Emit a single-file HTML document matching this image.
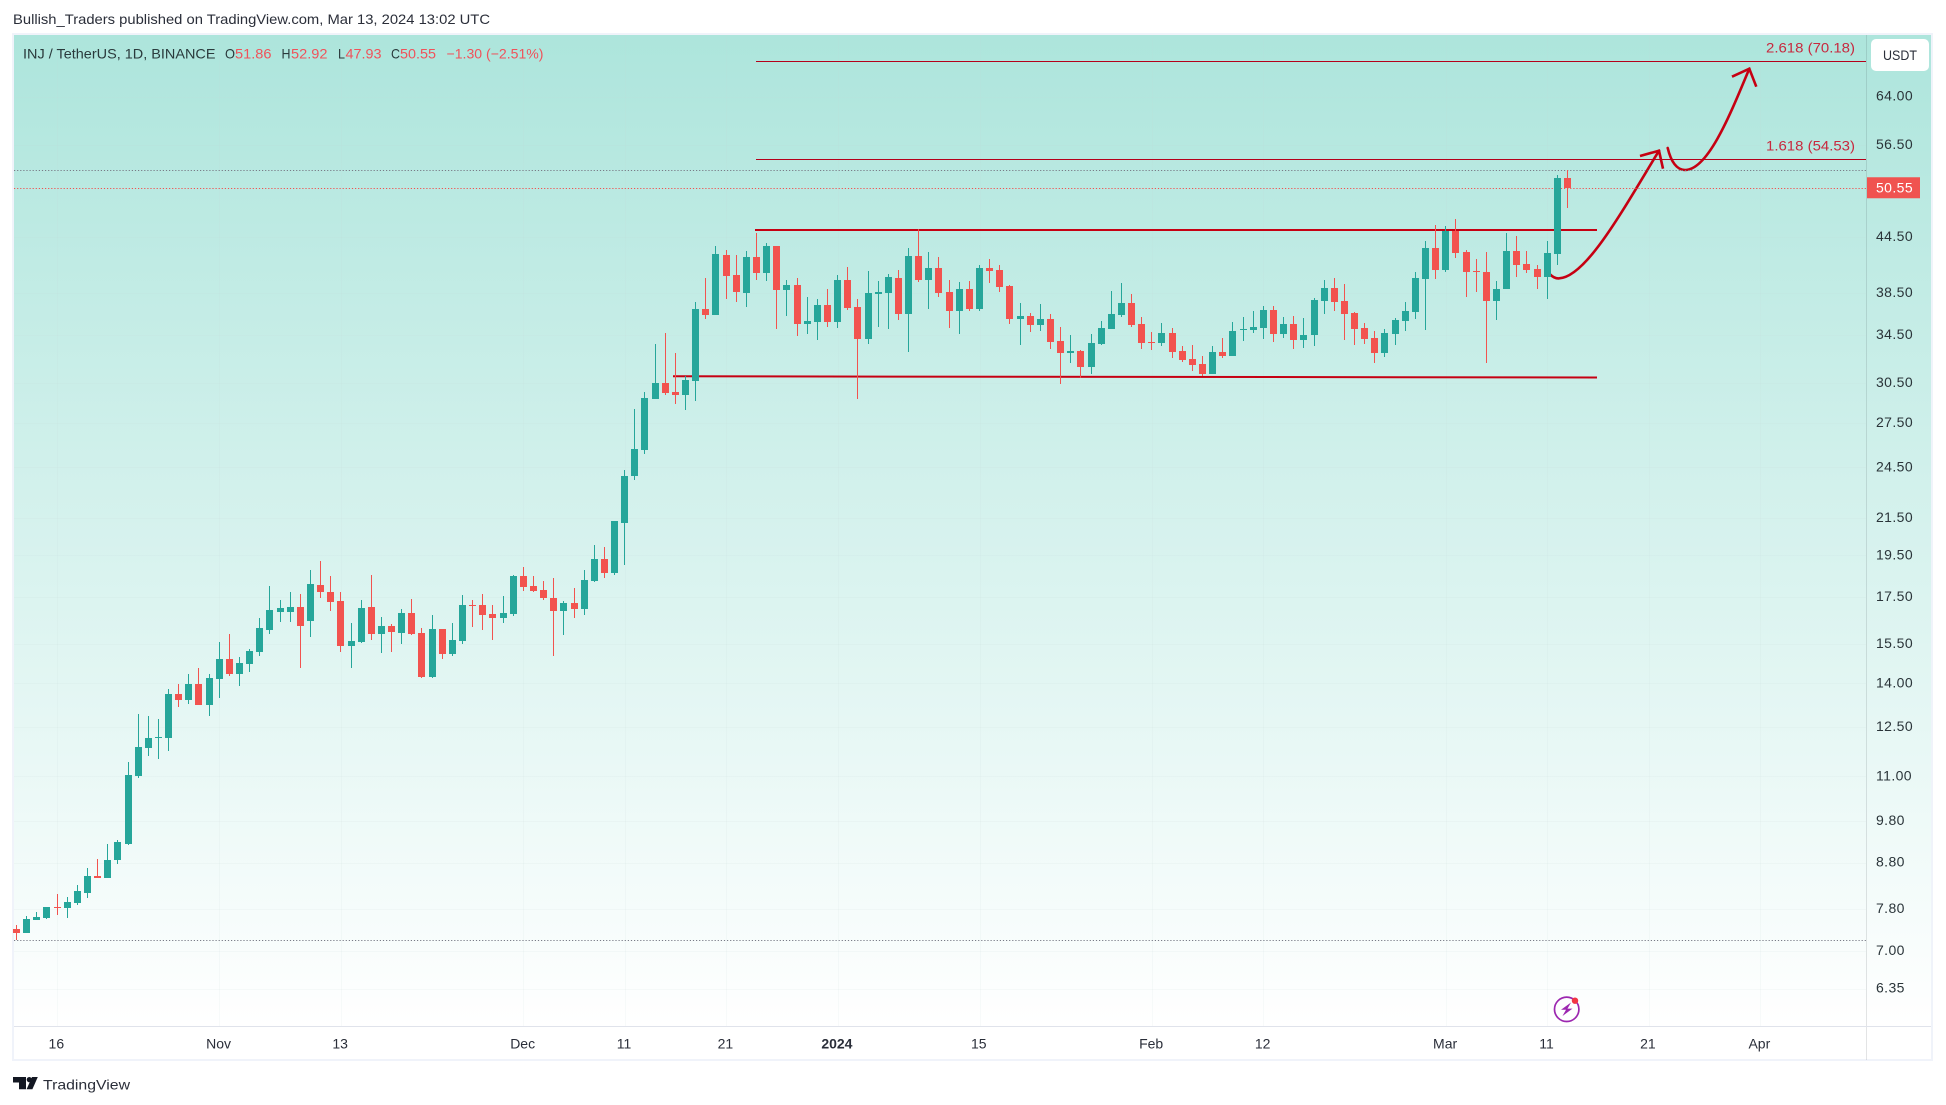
<!DOCTYPE html>
<html lang="en">
<head>
<meta charset="utf-8">
<title>INJ / TetherUS chart</title>
<style>
html,body{margin:0;padding:0;background:#fff;width:1946px;height:1105px;overflow:hidden}
svg{display:block}
text{font-family:"Liberation Sans",sans-serif;font-size:14px}
</style>
</head>
<body>
<svg id="chart" xmlns="http://www.w3.org/2000/svg" width="1946" height="1105" viewBox="0 0 1946 1105">
  <defs>
    <linearGradient id="paneGradient" x1="0" y1="0" x2="0" y2="1">
      <stop offset="0" stop-color="#ade5dc"/>
      <stop offset="1" stop-color="#ffffff"/>
    </linearGradient>
  </defs>
  <rect x="0" y="0" width="1946" height="1105" fill="#ffffff"/>
  <text x="13" y="24" font-size="14" fill="#2a2e39" textLength="477" lengthAdjust="spacingAndGlyphs">Bullish_Traders published on TradingView.com, Mar 13, 2024 13:02 UTC</text>
  <rect x="13" y="34" width="1919" height="1026" fill="#ffffff" stroke="#f0f3fa" stroke-width="2"/>
  <rect x="14" y="35" width="1917" height="991" fill="url(#paneGradient)"/>
  <g id="grid"></g>
  <g id="drawings">
    <path d="M1550 274.3 Q1554 278.4 1558.5 278.4 C1585 278 1620 215 1659 150.7" fill="none" stroke="#c60012" stroke-width="2.6" stroke-linecap="round"/>
    <path d="M1640 156 L1659 150.7 L1663 168.7" fill="none" stroke="#c60012" stroke-width="2.6"/>
    <path d="M1667.7 148 C1671 162 1677 170 1685 170 C1708 170 1730 115 1749.3 68.7" fill="none" stroke="#c60012" stroke-width="2.6" stroke-linecap="round"/>
    <path d="M1732 76.7 L1749.3 68.7 L1756.3 86.7" fill="none" stroke="#c60012" stroke-width="2.6"/>
  </g>
  <g id="levels"></g>
  <g id="candles"></g>
  <line x1="1866.5" y1="35" x2="1866.5" y2="1060" stroke="#2a2e39" stroke-opacity="0.13" stroke-width="1"/>
  <line x1="14" y1="1026.5" x2="1931" y2="1026.5" stroke="#e0e3eb" stroke-width="1"/>
  <g id="priceAxis"></g>
  <g id="timeAxis"></g>
  <g>
    <text x="23" y="58.5" fill="#2a3a3c" textLength="192.5" lengthAdjust="spacingAndGlyphs">INJ / TetherUS, 1D, BINANCE</text>
    <text x="225" y="58.5" fill="#2a3a3c" textLength="10" lengthAdjust="spacingAndGlyphs">O</text>
    <text x="235" y="58.5" fill="#f0525a" textLength="36.5" lengthAdjust="spacingAndGlyphs">51.86</text>
    <text x="281.5" y="58.5" fill="#2a3a3c" textLength="9" lengthAdjust="spacingAndGlyphs">H</text>
    <text x="291" y="58.5" fill="#f0525a" textLength="36.5" lengthAdjust="spacingAndGlyphs">52.92</text>
    <text x="338" y="58.5" fill="#2a3a3c" textLength="7" lengthAdjust="spacingAndGlyphs">L</text>
    <text x="345.5" y="58.5" fill="#f0525a" textLength="36" lengthAdjust="spacingAndGlyphs">47.93</text>
    <text x="391" y="58.5" fill="#2a3a3c" textLength="9" lengthAdjust="spacingAndGlyphs">C</text>
    <text x="400" y="58.5" fill="#f0525a" textLength="36" lengthAdjust="spacingAndGlyphs">50.55</text>
    <text x="446.5" y="58.5" fill="#f0525a" textLength="97" lengthAdjust="spacingAndGlyphs">−1.30 (−2.51%)</text>
  </g>
  <g>
    <rect x="1871" y="39" width="58" height="32" rx="5" fill="#ffffff"/>
    <text x="1883" y="60" fill="#2a2e39" textLength="34" lengthAdjust="spacingAndGlyphs">USDT</text>
  </g>
  <g>
    <circle cx="1566.7" cy="1009.3" r="12.2" fill="none" stroke="#9c27b0" stroke-width="1.7"/>
    <path d="M1571 1002.5 L1561 1009.8 L1566 1009.8 L1562.5 1016 L1572.5 1008.6 L1567.5 1008.6 Z" fill="#9c27b0"/>
    <circle cx="1575" cy="1000.7" r="3.2" fill="#f23645"/>
  </g>
  <g>
    <path d="M13 1077 H26 V1089.3 H19 V1082.5 H13 Z" fill="#131722"/>
    <circle cx="29.3" cy="1079.6" r="2.6" fill="#131722"/>
    <path d="M32 1077 H37.8 L32.4 1089.3 H26.6 Z" fill="#131722"/>
    <text x="43" y="1089.5" font-size="16" fill="#2a2e39" textLength="87" lengthAdjust="spacingAndGlyphs">TradingView</text>
  </g>
</svg>
<script>
const opens = [
7.41,7.34,7.59,7.63,7.85,7.83,7.92,8.14,8.51,8.46,
8.85,9.24,11.01,11.83,12.16,12.16,13.63,13.42,13.99,13.25,
14.17,14.92,14.36,14.73,15.19,16.07,16.85,16.85,17.07,16.46,
18.06,17.73,17.33,15.43,15.59,17.07,15.92,16.25,15.96,16.80,
15.96,14.24,16.13,15.11,15.63,17.16,17.16,16.76,16.59,16.76,
18.49,18.02,17.83,17.47,16.88,17.24,16.97,18.25,19.33,18.63,
21.21,23.94,25.62,29.24,30.48,29.78,29.55,30.64,36.93,36.36,
42.46,40.33,38.49,42.25,40.53,43.47,38.79,39.30,35.52,35.71,
37.30,35.71,39.81,37.12,34.16,38.39,38.49,40.02,36.45,42.36,
39.81,41.06,38.59,36.74,38.89,36.93,41.06,40.85,39.19,35.98,
36.26,35.43,35.98,33.98,32.95,33.12,31.78,33.72,35.06,36.36,
37.50,35.52,33.89,33.80,34.70,33.12,32.44,32.03,31.22,33.03,
32.70,34.97,34.97,35.15,36.83,34.61,35.52,34.07,34.52,37.69,
38.99,37.69,36.55,35.15,34.25,32.95,34.61,35.80,36.64,39.91,
43.24,40.85,45.19,42.80,40.74,40.64,37.69,38.89,42.91,41.49,
40.96,40.12,42.57,51.86];
const highs = [
7.49,7.67,7.75,7.85,8.12,8.04,8.31,8.68,8.89,9.24,
9.34,11.43,12.94,12.87,12.77,13.81,13.99,14.36,14.58,14.36,
15.59,15.91,15.00,15.31,16.59,18.00,17.38,17.74,17.65,18.78,
19.23,18.49,17.73,16.37,17.38,18.54,16.63,16.33,16.97,17.42,
16.17,16.72,16.13,16.37,17.60,17.38,17.65,17.16,17.56,18.54,
18.93,18.49,18.25,18.39,17.33,17.92,18.78,20.04,19.93,21.32,
24.32,28.49,29.78,33.72,34.70,32.95,31.04,37.59,40.02,43.47,
43.02,42.46,42.91,44.96,43.81,43.47,39.81,40.02,38.09,37.89,
38.89,40.33,41.17,37.89,40.74,39.71,40.43,40.85,43.24,45.43,
42.80,42.25,39.81,39.60,39.71,41.38,42.03,41.38,39.30,37.50,
36.55,37.40,36.45,35.24,34.52,33.20,34.61,35.80,38.69,39.50,
38.39,36.17,34.79,35.61,35.15,33.55,33.63,32.70,33.55,34.25,
35.71,36.17,36.74,37.21,37.21,36.17,36.26,36.08,37.99,39.81,
40.02,39.40,36.64,35.61,34.88,35.06,36.08,37.59,40.64,44.03,
45.90,45.78,46.62,43.02,42.03,42.80,39.71,44.96,44.61,42.91,
41.38,44.03,52.26,52.92];
const lows = [
7.20,7.34,7.59,7.61,7.69,7.63,7.88,8.02,8.46,8.46,
8.76,9.20,10.96,11.61,11.52,11.76,13.18,13.28,13.25,12.87,
13.49,14.28,13.92,14.43,15.03,15.92,16.41,16.41,14.58,15.79,
17.46,16.88,15.19,14.58,15.55,15.67,15.15,15.19,15.51,15.88,
14.20,14.20,14.92,15.03,15.51,16.21,16.07,15.67,16.37,16.67,
17.78,17.73,17.38,15.03,15.88,16.59,16.72,18.20,18.39,18.54,
19.03,23.71,25.36,29.24,29.55,28.87,28.41,29.09,35.98,36.36,
37.89,37.59,37.12,39.81,39.71,35.06,36.26,34.43,34.61,34.07,
35.24,35.15,36.83,29.24,33.72,35.24,35.06,35.89,33.03,39.60,
36.93,38.09,35.15,34.61,36.74,36.74,39.50,38.59,35.52,33.63,
34.79,34.88,33.29,30.40,32.11,30.88,31.22,33.63,35.06,36.17,
35.24,33.29,33.20,33.55,32.53,32.19,31.46,31.04,31.22,32.53,
32.70,33.98,34.70,34.16,33.89,34.25,33.29,33.37,33.55,36.45,
36.74,34.07,33.63,33.72,32.11,32.61,33.63,34.88,35.98,34.97,
39.91,40.64,42.14,38.09,38.59,32.11,35.89,38.89,40.12,40.53,
38.89,37.89,41.38,47.93];
const closes = [
7.34,7.61,7.65,7.85,7.84,7.94,8.17,8.51,8.46,8.87,
9.27,11.05,11.86,12.16,12.19,13.63,13.42,13.99,13.25,14.20,
14.92,14.36,14.77,15.23,16.17,16.93,17.02,17.07,16.25,18.11,
17.73,17.29,15.43,15.63,17.02,15.92,16.25,16.01,16.80,15.92,
14.24,16.13,15.11,15.67,17.16,17.11,16.72,16.59,16.80,18.49,
17.97,17.78,17.47,16.88,17.24,16.97,18.30,19.33,18.63,21.32,
23.94,25.69,29.32,30.48,29.70,29.55,30.72,36.93,36.36,42.57,
40.22,38.59,42.25,40.53,43.47,38.79,39.30,35.52,35.80,37.30,
35.71,39.81,37.02,34.16,38.49,38.59,40.12,36.45,42.36,39.81,
41.06,38.49,36.74,38.89,36.93,41.06,40.74,39.09,35.98,36.26,
35.43,35.98,33.89,32.95,33.12,31.78,33.80,35.15,36.45,37.50,
35.43,33.80,33.80,34.70,33.03,32.36,31.94,31.22,33.03,32.70,
34.88,35.06,35.24,36.83,34.61,35.52,34.07,34.52,37.79,38.99,
37.59,36.45,35.06,34.16,32.95,34.70,35.89,36.74,40.02,43.24,
40.85,45.19,42.69,40.64,40.64,37.69,38.89,42.91,41.38,40.85,
40.12,42.69,51.86,50.55];

const priceTickLabels = ["64.00","56.50","44.50","38.50","34.50","30.50","27.50","24.50","21.50","19.50","17.50","15.50","14.00","12.50","11.00","9.80","8.80","7.80","7.00","6.35"];
const timeTickDayIndex = [4,20,32,50,60,70,81,95,112,123,141,151,161,172];
const timeTickLabels = ["16","Nov","13","Dec","11","21","2024","15","Feb","12","Mar","11","21","Apr"];
const fibLevels = [70.18,54.53];
const fibLabels = ["2.618 (70.18)","1.618 (54.53)"];
const rangeLevels = [45.31,30.97];

const NS = "http://www.w3.org/2000/svg";
const GREEN = "#26a69a";
const RED = "#f2534f";
function xScale(i){ return 16.5 + 10.137 * i; }
function yScale(p){ return 96.7 + 386 * Math.log(64 / p); }
function mk(parent, tag, attrs, txt){
  const el = document.createElementNS(NS, tag);
  for (const k in attrs) el.setAttribute(k, attrs[k]);
  if (txt !== undefined) el.textContent = txt;
  parent.appendChild(el);
  return el;
}
const gridG = document.getElementById("grid");
const levelsG = document.getElementById("levels");
const candlesG = document.getElementById("candles");
const priceG = document.getElementById("priceAxis");
const timeG = document.getElementById("timeAxis");

priceTickLabels.forEach(function(lbl){
  const y = yScale(parseFloat(lbl));
  const g = mk(gridG, "line", {x1:14, x2:1866, y1:Math.round(y)+0.5, y2:Math.round(y)+0.5, stroke:"#c8d8d8", "stroke-opacity":0.12});
  
  
  const t = mk(priceG, "text", {x:1876, y:y+4, fill:"#2a3439", "letter-spacing":"0.4"}, lbl);
  
  
});

timeTickDayIndex.forEach(function(idx, k){
  const x = xScale(idx);
  const g = mk(gridG, "line", {x1:Math.round(x)+0.5, x2:Math.round(x)+0.5, y1:35, y2:1026, stroke:"#c8d8d8", "stroke-opacity":0.12});
  
  
  const bold = timeTickLabels[k] === "2024";
  const t = mk(timeG, "text", {x:x-0.7, y:1048.5, fill:"#2a2e39", "text-anchor":"middle", "font-weight":bold ? "bold" : "normal"}, timeTickLabels[k]);
  
  
});

fibLevels.forEach(function(level, k){
  const y = Math.round(yScale(level)) + 0.5;
  const l = mk(levelsG, "line", {x1:756, x2:1866, y1:y, y2:y, stroke:"#b5001a", "stroke-width":1});
  
  
  const t = mk(levelsG, "text", {x:1855, y:y-9, fill:"#c8283e", "text-anchor":"end", textLength:89, lengthAdjust:"spacingAndGlyphs"}, fibLabels[k]);
  
  
});

const railTop = mk(levelsG, "line", {x1:755, x2:1597, y1:yScale(rangeLevels[0]), y2:yScale(rangeLevels[0]), stroke:"#c60012", "stroke-width":2});


const railBottom = mk(levelsG, "line", {x1:673, x2:1597, y1:yScale(rangeLevels[1])-0.6, y2:yScale(rangeLevels[1])+0.6, stroke:"#c60012", "stroke-width":2});



const maxHigh = Math.max.apply(null, highs);
const minLow = Math.min.apply(null, lows);
const lastClose = closes[closes.length - 1];
const highLine = mk(levelsG, "line", {x1:14, x2:1866, y1:Math.round(yScale(maxHigh))+0.5, y2:Math.round(yScale(maxHigh))+0.5, stroke:"#787b86", "stroke-dasharray":"1.2 1.9"});


const lowLine = mk(levelsG, "line", {x1:14, x2:1866, y1:Math.round(yScale(minLow))+0.5, y2:Math.round(yScale(minLow))+0.5, stroke:"#787b86", "stroke-dasharray":"1.2 1.9"});


const lastLine = mk(levelsG, "line", {x1:14, x2:1866, y1:Math.round(yScale(lastClose))+0.5, y2:Math.round(yScale(lastClose))+0.5, stroke:"#ef5350", "stroke-dasharray":"1.2 1.9"});



opens.forEach(function(o, i){
  const c = closes[i];
  const color = c >= o ? GREEN : RED;
  const xc = Math.round(xScale(i) - 0.5);
  const g = mk(candlesG, "g", {});
  
  
  const yh = Math.round(yScale(highs[i]));
  const yl = Math.round(yScale(lows[i]));
  const wick = mk(g, "rect", {x:xc, y:yh, width:1, height:Math.max(1, yl - yh), fill:color});
  
  
  const top = Math.round(yScale(Math.max(o, c)));
  const bot = Math.round(yScale(Math.min(o, c)));
  const body = mk(g, "rect", {x:xc - 3, y:top, width:7, height:Math.max(1, bot - top), fill:color});
  
  
});

const lastY = yScale(lastClose);
const lastBox = mk(priceG, "rect", {x:1867, y:lastY - 10.5, width:53, height:21, fill:"#f05350"});


const lastText = mk(priceG, "text", {x:1876, y:lastY + 4.5, fill:"#ffffff", "letter-spacing":"0.4"}, lastClose.toFixed(2));


</script>
</body>
</html>
